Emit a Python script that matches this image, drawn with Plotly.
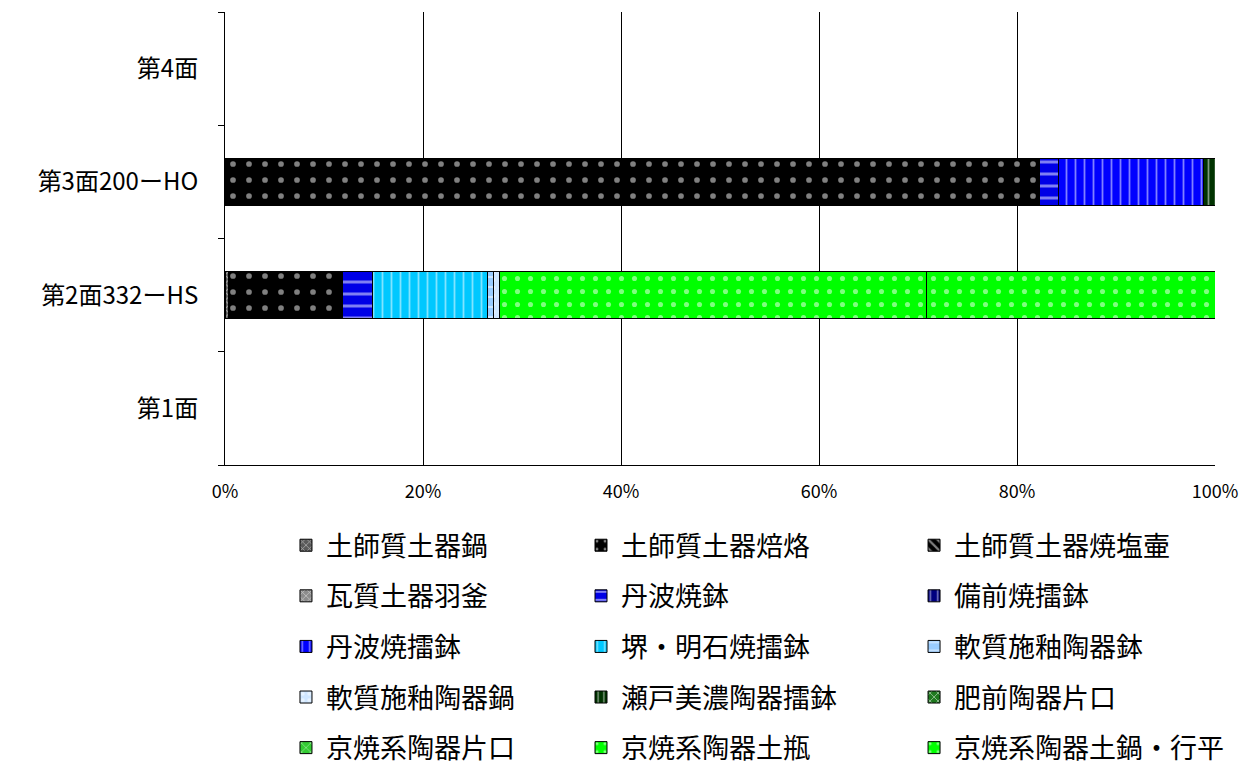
import plotly.graph_objects as go

categories = ["第1面", "第2面332ーHS", "第3面200ーHO", "第4面"]
x_ticks = [0, 20, 40, 60, 80, 100]
x_tick_labels = ["0%", "20%", "40%", "60%", "80%", "100%"]

series_names = [
    "土師質土器鍋", "土師質土器焙烙", "土師質土器焼塩壷",
    "瓦質土器羽釜", "丹波焼鉢", "備前焼擂鉢",
    "丹波焼擂鉢", "堺・明石焼擂鉢", "軟質施釉陶器鉢",
    "軟質施釉陶器鍋", "瀬戸美濃陶器擂鉢", "肥前陶器片口",
    "京焼系陶器片口", "京焼系陶器土瓶", "京焼系陶器土鍋・行平",
]
# percentages for 第2面332ーHS
values_332HS = [0.4, 11.5, 0, 0, 3.0, 0, 0, 11.6, 0.6, 0.6, 0, 0, 0, 43.2, 29.1]
# percentages for 第3面200ーHO
values_200HO = [0, 82.3, 0, 0, 1.9, 0, 14.6, 0, 0, 0, 1.2, 0, 0, 0, 0]

colors = ["#5a5a5a", "#000000", "#000000", "#8c8c8c", "#0000e6", "#000080",
          "#0000ff", "#00c8ff", "#99ccff", "#cfe6ff", "#003300", "#1f7a1f",
          "#33cc33", "#00ff00", "#00ff00"]
shapes = ["x", ".", "\\", "x", "-", "|", "|", "|", "-", ".", "|", "x", "x", ".", "."]
sizes = [6, 16, 8, 6, 12, 9, 9, 9, 10, 8, 7, 7, 8, 13, 13]
solids = [0.3, 0.1, 0.35, 0.3, 0.25, 0.2, 0.2, 0.2, 0.2, 0.3, 0.25, 0.3, 0.2, 0.12, 0.12]

fig = go.Figure()
for i, name in enumerate(series_names):
    v2 = values_332HS[i] or None
    v3 = values_200HO[i] or None
    col = i % 3
    fig.add_trace(go.Bar(
        y=categories,
        x=[None, v2, v3, None],
        orientation="h",
        name=name,
        legend="legend" if col == 0 else f"legend{col + 1}",
        legendgroup=name,
        marker=dict(
            color=colors[i],
            line=dict(color="#000000", width=1),
            pattern=dict(shape=shapes[i], fgcolor="#ffffff", size=sizes[i], solidity=solids[i]),
        ),
        hoverinfo="x+name",
    ))

legend_common = dict(
    orientation="v",
    yanchor="top",
    y=-0.124,
    font=dict(family="Noto Sans CJK JP", size=27, color="#000000"),
    bgcolor="rgba(0,0,0,0)",
    traceorder="grouped",
    tracegroupgap=12.5,
    itemclick=False,
)

fig.update_layout(
    width=1250,
    height=768,
    margin=dict(l=217, r=43, t=4, b=311),
    paper_bgcolor="#ffffff",
    plot_bgcolor="#ffffff",
    barmode="stack",
    bargap=0.58,
    showlegend=True,
    legend=dict(x=0.0616, xanchor="left", **legend_common),
    legend2=dict(x=0.3596, xanchor="left", **legend_common),
    legend3=dict(x=0.696, xanchor="left", **legend_common),
    font=dict(family="Noto Sans CJK JP", color="#000000"),
    xaxis=dict(
        range=[0, 100],
        tickvals=x_ticks,
        ticktext=x_tick_labels,
        showgrid=True,
        gridcolor="#000000",
        gridwidth=1,
        zeroline=False,
        showline=True,
        linecolor="#000000",
        linewidth=1,
        ticks="",
        ticklabelstandoff=10,
        tickfont=dict(family="Noto Sans CJK JP", size=18, color="#000000"),
    ),
    yaxis=dict(
        type="category",
        categoryorder="array",
        categoryarray=categories,
        range=[-0.5, 3.5],
        showline=True,
        linecolor="#000000",
        linewidth=1,
        showgrid=False,
        ticks="outside",
        tickson="boundaries",
        ticklen=6,
        tickcolor="#000000",
        ticklabelstandoff=21,
        tickfont=dict(family="Noto Sans CJK JP", size=24, color="#000000"),
    ),
)

fig.write_html("out.html")
